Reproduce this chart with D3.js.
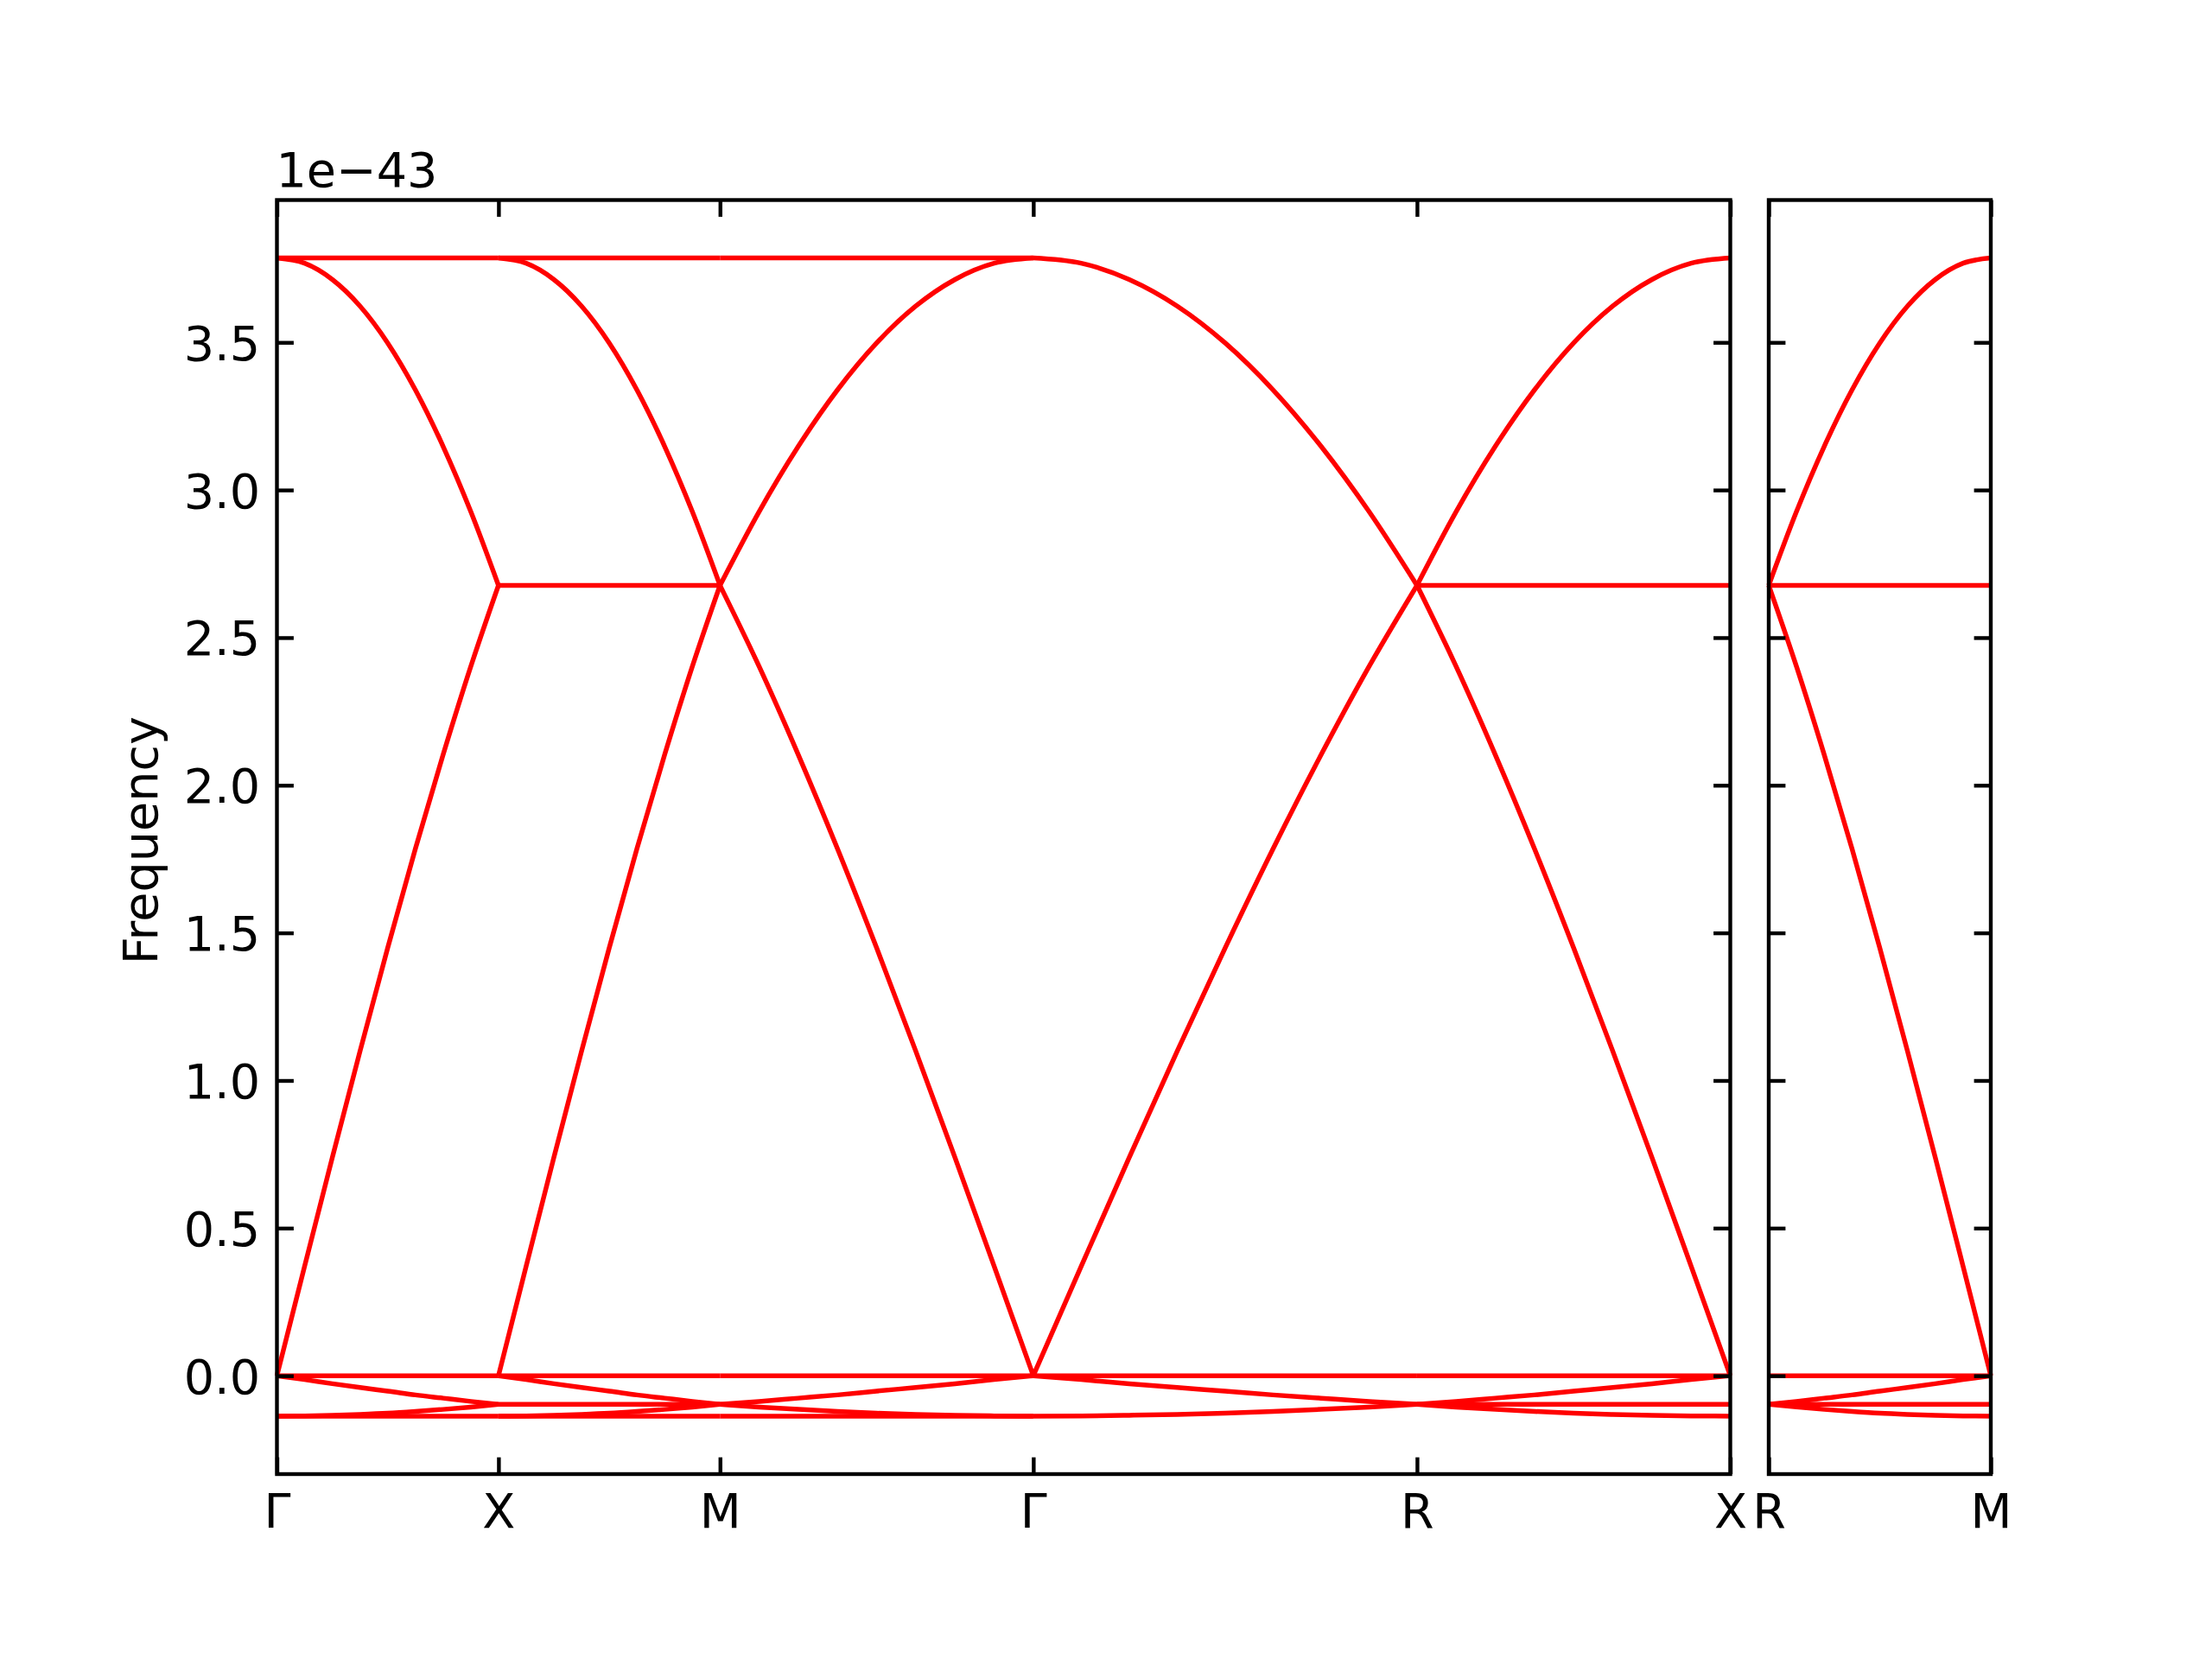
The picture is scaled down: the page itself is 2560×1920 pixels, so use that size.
<!DOCTYPE html>
<html>
<head>
<meta charset="utf-8">
<script src="https://cdn.jsdelivr.net/npm/d3@7"></script>
<style>
  html, body { margin: 0; padding: 0; background: #ffffff; }
  svg { display: block; }
  text { font-family: "DejaVu Sans", sans-serif; }
</style>
</head>
<body>
<svg id="chart" width="2560" height="1920"></svg>
<script>
// ---------------- DATA ----------------
// High-symmetry points (path distance) for the main panel and the extra panel
const kTickPos = [0, 0.5, 1.0, 1.7071, 2.5731, 3.2802];
const kTickLabels = ["Γ", "X", "M", "Γ", "R", "X"];
const kTickPos2 = [0, 0.5];
const kTickLabels2 = ["R", "M"];
const yTicks = [0.0, 0.5, 1.0, 1.5, 2.0, 2.5, 3.0, 3.5];
const yLabel = "Frequency";
const offsetLabel = "1e\u221243";

// fractional positions sampled along every path segment
const segFrac = [0, 0.125, 0.25, 0.375, 0.5, 0.625, 0.75, 0.875, 1];

const flatTop  = [3.786, 3.786, 3.786, 3.786, 3.786, 3.786, 3.786, 3.786, 3.786];
const flatMid  = [2.677, 2.677, 2.677, 2.677, 2.677, 2.677, 2.677, 2.677, 2.677];
const flatZero = [0, 0, 0, 0, 0, 0, 0, 0, 0];
const flatLow  = [-0.097, -0.097, -0.097, -0.097, -0.097, -0.097, -0.097, -0.097, -0.097];
const flatBot  = [-0.137, -0.137, -0.137, -0.137, -0.137, -0.137, -0.137, -0.137, -0.137];
const arcDown  = [3.786, 3.768, 3.713, 3.623, 3.498, 3.339, 3.148, 2.927, 2.677];
const arcUp    = [2.677, 2.927, 3.148, 3.339, 3.498, 3.623, 3.713, 3.768, 3.786];
const riseUp   = [0, 0.371, 0.739, 1.099, 1.449, 1.785, 2.103, 2.402, 2.677];
const fallDown = [2.677, 2.402, 2.103, 1.785, 1.449, 1.099, 0.739, 0.371, 0];
const lowFall  = [0, -0.013, -0.027, -0.040, -0.052, -0.065, -0.076, -0.087, -0.097];
const lowRise  = [-0.097, -0.087, -0.076, -0.065, -0.052, -0.040, -0.027, -0.013, 0];
const lowUp    = [-0.137, -0.136, -0.134, -0.131, -0.127, -0.121, -0.114, -0.106, -0.097];
const lowDown  = [-0.097, -0.106, -0.114, -0.121, -0.127, -0.131, -0.134, -0.136, -0.137];

// bands present on each segment
const bandsGX = [flatTop, arcDown, riseUp, flatZero, lowFall, lowUp, flatBot];
const bandsXM = [flatTop, arcDown, flatMid, riseUp, flatZero, lowFall, flatLow, lowUp, flatBot];
const bandsMG = [flatTop, arcUp, fallDown, flatZero, lowRise, lowDown, flatBot];
const bandsGR = [arcDown, riseUp, flatZero, lowFall, lowUp];
const bandsRX = [flatMid, arcUp, fallDown, flatZero, flatLow, lowRise, lowDown];
const bandsRM = [flatMid, arcUp, fallDown, flatZero, flatLow, lowRise, lowDown];

// segments: [panel, startIndex, endIndex, bands]
const segments = [
  {panel: 0, from: 0, to: 1, bands: bandsGX},
  {panel: 0, from: 1, to: 2, bands: bandsXM},
  {panel: 0, from: 2, to: 3, bands: bandsMG},
  {panel: 0, from: 3, to: 4, bands: bandsGR},
  {panel: 0, from: 4, to: 5, bands: bandsRX},
  {panel: 1, from: 0, to: 1, bands: bandsRM}
];

// ---------------- LAYOUT ----------------
const W = 2560, H = 1920;
const plotTop = 231.5, plotBottom = 1706;
const p1Left = 320.5, p1Right = 2002.5;
const p2Left = 2047, p2Right = 2304;
const fontPx = 55.6;
const tickLen = 19.4;
const spineW = 4.4;
const bandColor = "#ff0000";
const bandW = 5.5;

const svg = d3.select("#chart");
svg.append("rect").attr("width", W).attr("height", H).attr("fill", "#ffffff");

const x1 = d3.scaleLinear().domain([kTickPos[0], kTickPos[kTickPos.length - 1]]).range([p1Left, p1Right]);
const x2 = d3.scaleLinear().domain([kTickPos2[0], kTickPos2[1]]).range([p2Left, p2Right]);

const allVals = segments.flatMap(s => s.bands.flat());
const vmin = d3.min(allVals), vmax = d3.max(allVals);
const pad = (vmax - vmin) * 0.05;
const y = d3.scaleLinear().domain([vmin - pad, vmax + pad]).range([plotBottom, plotTop]);

// ---------------- BANDS ----------------
const line = d3.line().x(d => d[0]).y(d => d[1]).curve(d3.curveMonotoneX);
const gBands = svg.append("g");
segments.forEach(seg => {
  const xs = seg.panel === 0 ? x1 : x2;
  const ticks = seg.panel === 0 ? kTickPos : kTickPos2;
  const k0 = ticks[seg.from], k1 = ticks[seg.to];
  seg.bands.forEach(vals => {
    const pts = vals.map((v, i) => [xs(k0 + (k1 - k0) * segFrac[i]), y(v)]);
    gBands.append("path")
      .attr("d", line(pts))
      .attr("fill", "none")
      .attr("stroke", bandColor)
      .attr("stroke-width", bandW)
      .attr("stroke-linejoin", "round");
  });
});

// ---------------- AXES ----------------
function styleAxis(g) {
  g.select(".domain").remove();
  g.selectAll(".tick line").attr("stroke", "#000").attr("stroke-width", spineW);
  g.selectAll(".tick text").attr("fill", "#000").attr("font-size", fontPx)
    .attr("font-family", "DejaVu Sans, sans-serif");
}
const fmt = d3.format(".1f");

// panel 1 y axes
svg.append("g").attr("transform", `translate(${p1Left},0)`)
  .call(d3.axisLeft(y).tickValues(yTicks).tickSize(-tickLen).tickPadding(tickLen).tickFormat(fmt))
  .call(styleAxis)
  .call(g => g.selectAll(".tick text").attr("dy", "0.36em"));
svg.append("g").attr("transform", `translate(${p1Right},0)`)
  .call(d3.axisRight(y).tickValues(yTicks).tickSize(-tickLen).tickFormat(""))
  .call(styleAxis);
// panel 2 y axes
svg.append("g").attr("transform", `translate(${p2Left},0)`)
  .call(d3.axisLeft(y).tickValues(yTicks).tickSize(-tickLen).tickFormat(""))
  .call(styleAxis);
svg.append("g").attr("transform", `translate(${p2Right},0)`)
  .call(d3.axisRight(y).tickValues(yTicks).tickSize(-tickLen).tickFormat(""))
  .call(styleAxis);

// x axes panel 1
svg.append("g").attr("transform", `translate(0,${plotBottom})`)
  .call(d3.axisBottom(x1).tickValues(kTickPos).tickSize(-tickLen).tickPadding(22.5)
    .tickFormat((d, i) => kTickLabels[i]))
  .call(styleAxis);
svg.append("g").attr("transform", `translate(0,${plotTop})`)
  .call(d3.axisTop(x1).tickValues(kTickPos).tickSize(-tickLen).tickFormat(""))
  .call(styleAxis);
// x axes panel 2
svg.append("g").attr("transform", `translate(0,${plotBottom})`)
  .call(d3.axisBottom(x2).tickValues(kTickPos2).tickSize(-tickLen).tickPadding(22.5)
    .tickFormat((d, i) => kTickLabels2[i]))
  .call(styleAxis);
svg.append("g").attr("transform", `translate(0,${plotTop})`)
  .call(d3.axisTop(x2).tickValues(kTickPos2).tickSize(-tickLen).tickFormat(""))
  .call(styleAxis);

// spines
[[p1Left, p1Right], [p2Left, p2Right]].forEach(([l, r]) => {
  svg.append("rect")
    .attr("x", l).attr("y", plotTop)
    .attr("width", r - l).attr("height", plotBottom - plotTop)
    .attr("fill", "none").attr("stroke", "#000").attr("stroke-width", spineW);
});

// labels
svg.append("text")
  .attr("transform", `translate(181.5,${(plotTop + plotBottom) / 2 + 4}) rotate(-90)`)
  .attr("text-anchor", "middle")
  .attr("font-size", fontPx)
  .attr("fill", "#000")
  .text(yLabel);

svg.append("text")
  .attr("x", p1Left - 1).attr("y", 216)
  .attr("font-size", fontPx)
  .attr("fill", "#000")
  .text(offsetLabel);
</script>
</body>
</html>
